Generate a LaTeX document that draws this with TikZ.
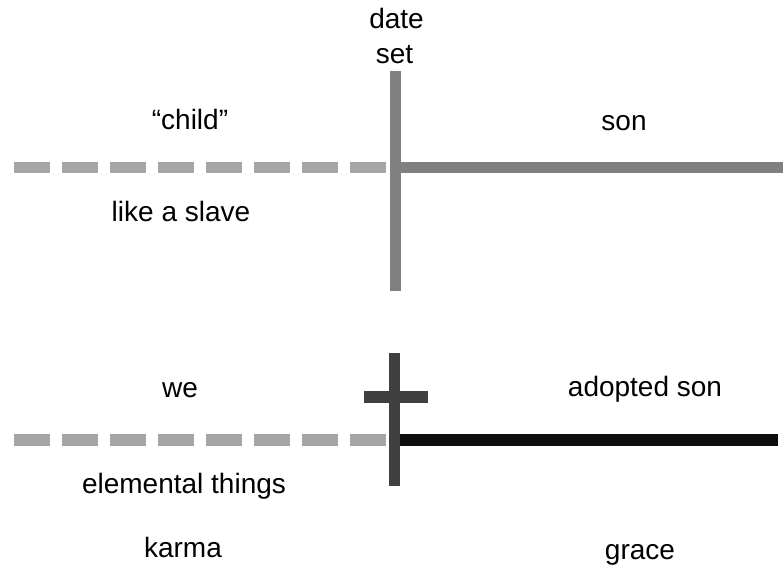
\documentclass[tikz,border=0pt]{standalone}
\usepackage{fontspec}
\setmainfont{Liberation Sans}
\begin{document}
\begin{tikzpicture}[x=1pt,y=-1pt,
  lbl/.style={font=\fontsize{28}{34}\selectfont, inner sep=0pt, anchor=base},
  dashline/.style={draw=dashgray, line width=11.5pt, dash pattern=on 36pt off 12pt},
  topline/.style={draw=midgray, line width=11.5pt},
  crossline/.style={draw=darkgray2, line width=11.5pt},
  graceline/.style={draw=nearblack, line width=11.5pt}]
\definecolor{dashgray}{HTML}{A6A6A6}
\definecolor{midgray}{HTML}{808080}
\definecolor{darkgray2}{HTML}{404040}
\definecolor{nearblack}{HTML}{0D0D0D}
\useasboundingbox (0,0) rectangle (783,568);
% top timeline
\coordinate (t1s) at (14,167.5);
\coordinate (t1e) at (386,167.5);
\coordinate (t2s) at (401,167.5);
\coordinate (t2e) at (783,167.5);
\coordinate (v1a) at (395.5,71);
\coordinate (v1b) at (395.5,291);
\draw[dashline] (t1s) -- (t1e);
\draw[topline] (t2s) -- (t2e);
\draw[topline] (v1a) -- (v1b);
% bottom timeline
\coordinate (b1s) at (14,440);
\coordinate (b1e) at (386,440);
\coordinate (b2s) at (400,440);
\coordinate (b2e) at (778,440);
\coordinate (v2a) at (394.5,353);
\coordinate (v2b) at (394.5,486);
\coordinate (h2a) at (364,397);
\coordinate (h2b) at (427.5,397);
\draw[dashline] (b1s) -- (b1e);
\draw[graceline] (b2s) -- (b2e);
\draw[crossline] (v2a) -- (v2b);
\draw[crossline] (h2a) -- (h2b);
% labels
\node[lbl] (date) at (396.5,28.3) {date};
\node[lbl] (set) at (394.5,63.3) {set};
\node[lbl] (child) at (190,129.5) {“child”};
\node[lbl] (son) at (624,130) {son};
\node[lbl] (slave) at (181,221.7) {like a slave};
\node[lbl] (we) at (180,397) {we};
\node[lbl] (adopted) at (645,396.7) {adopted son};
\node[lbl] (elem) at (184,493.3) {elemental things};
\node[lbl] (karma) at (183,557) {karma};
\node[lbl] (grace) at (640,559) {grace};
\end{tikzpicture}
\end{document}
